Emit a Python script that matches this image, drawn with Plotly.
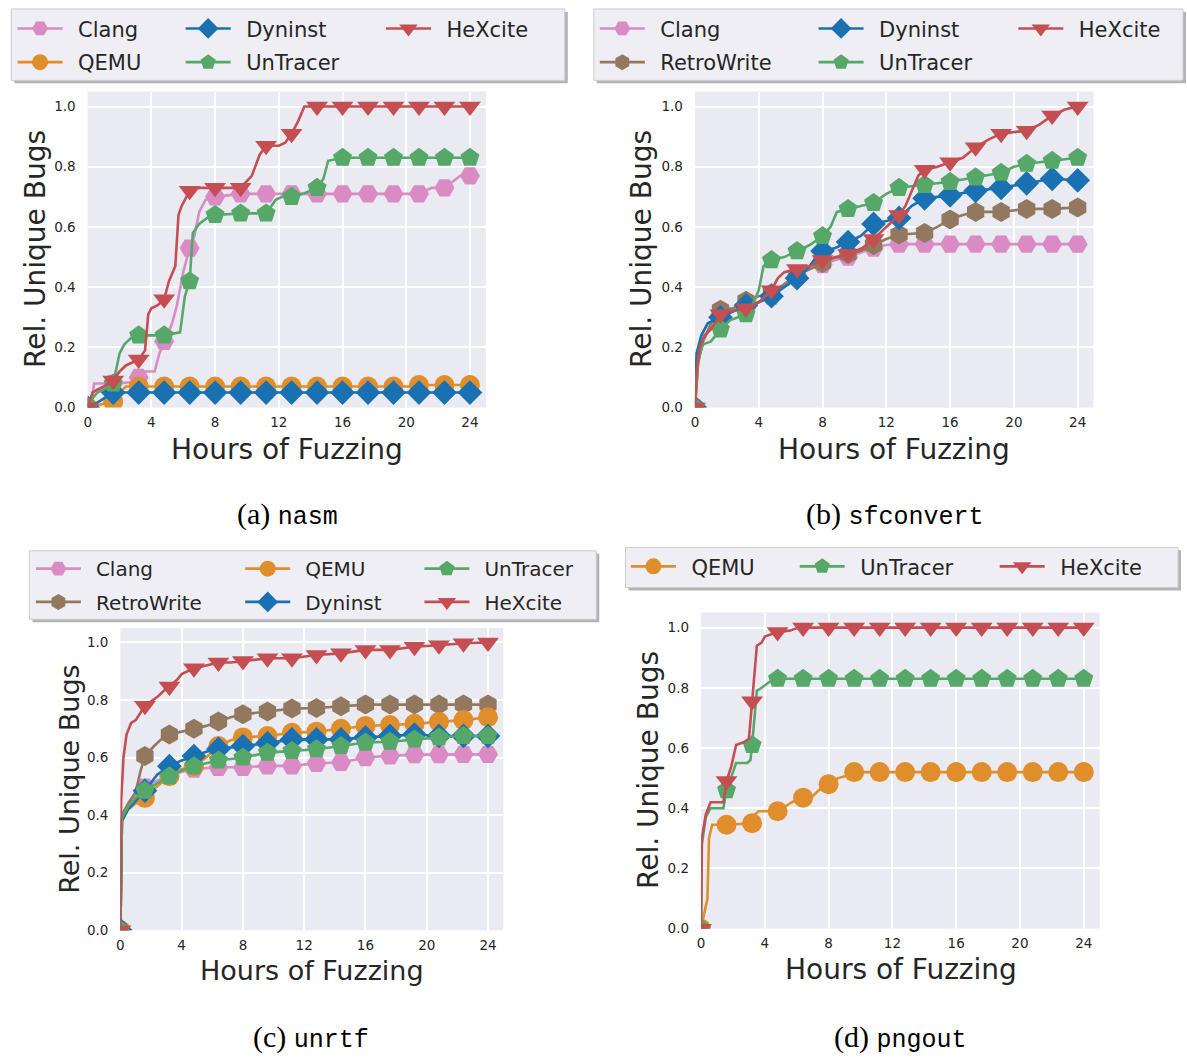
import plotly.graph_objects as go

W, H = 1187, 1059

# ---------------- data ----------------
MARK_T = [0, 1.6, 3.2, 4.8, 6.4, 8.0, 9.6, 11.2, 12.8, 14.4, 16.0, 17.6, 19.2, 20.8, 22.4, 24.0]
X_TICKS = [0, 4, 8, 12, 16, 20, 24]
Y_TICKS = [0.0, 0.2, 0.4, 0.6, 0.8, 1.0]

# (a) nasm
NASM_CLANG_T = [0, 0.2, 0.4, 1.6, 3.0, 3.2, 3.6, 4.2, 4.5, 4.8, 5.3, 5.6, 6.0, 6.4, 6.7, 7.0, 7.4, 8.0, 9.6, 11.2, 12.8, 14.4, 16.0, 17.6, 19.2, 20.8, 21.6, 22.4, 23.4, 24.0]
NASM_CLANG_V = [0, 0.0, 0.08, 0.08, 0.085, 0.10, 0.12, 0.12, 0.18, 0.22, 0.28, 0.34, 0.45, 0.53, 0.57, 0.65, 0.69, 0.70, 0.71, 0.71, 0.71, 0.71, 0.71, 0.71, 0.71, 0.71, 0.73, 0.73, 0.77, 0.77]
NASM_QEMU_T = [0, 1.6, 2.0, 2.4, 3.2, 4.8, 6.4, 8.0, 9.6, 11.2, 12.8, 14.4, 16.0, 17.6, 19.2, 20.2, 20.8, 22.4, 24.0]
NASM_QEMU_V = [0, 0.02, 0.05, 0.07, 0.07, 0.07, 0.07, 0.07, 0.07, 0.07, 0.07, 0.07, 0.07, 0.07, 0.07, 0.07, 0.075, 0.075, 0.075]
NASM_DYNINST_T = [0, 0.4, 1.0, 1.6, 3.2, 4.8, 6.4, 8.0, 9.6, 11.2, 12.8, 14.4, 16.0, 17.6, 19.2, 20.8, 22.4, 24.0]
NASM_DYNINST_V = [0, 0.01, 0.03, 0.05, 0.05, 0.05, 0.05, 0.05, 0.05, 0.05, 0.05, 0.05, 0.05, 0.05, 0.05, 0.05, 0.05, 0.05]
NASM_UNTRACER_T = [0, 0.3, 0.6, 1.0, 1.6, 2.0, 2.3, 2.7, 3.2, 4.8, 5.8, 6.1, 6.4, 6.6, 7.0, 7.5, 8.0, 9.6, 11.2, 11.8, 12.2, 12.8, 13.5, 14.4, 14.8, 15.1, 16.0, 17.6, 19.2, 20.8, 22.4, 24.0]
NASM_UNTRACER_V = [0, 0.03, 0.05, 0.06, 0.08, 0.18, 0.21, 0.23, 0.24, 0.24, 0.25, 0.37, 0.42, 0.58, 0.61, 0.63, 0.64, 0.645, 0.645, 0.69, 0.70, 0.70, 0.71, 0.73, 0.76, 0.82, 0.83, 0.83, 0.83, 0.83, 0.83, 0.83]
NASM_HEXCITE_T = [0, 0.3, 0.6, 1.0, 1.6, 2.0, 2.4, 2.8, 3.2, 3.6, 3.8, 4.0, 4.4, 4.8, 5.1, 5.5, 5.7, 5.9, 6.4, 7.0, 8.0, 9.6, 10.3, 10.8, 11.2, 12.0, 12.4, 12.8, 13.2, 13.6, 14.4, 16.0, 17.6, 19.2, 20.8, 22.4, 24.0]
NASM_HEXCITE_V = [0, 0.05, 0.06, 0.07, 0.09, 0.12, 0.14, 0.15, 0.16, 0.19, 0.31, 0.33, 0.34, 0.36, 0.42, 0.47, 0.64, 0.67, 0.72, 0.73, 0.73, 0.73, 0.77, 0.84, 0.87, 0.87, 0.88, 0.91, 0.95, 1.0, 1.0, 1.0, 1.0, 1.0, 1.0, 1.0, 1.0]

# (b) sfconvert
SF_CLANG_T = [0, 0.2, 0.5, 1.0, 1.6, 2.4, 3.2, 4.0, 4.8, 5.6, 6.4, 7.2, 8.0, 8.8, 9.6, 10.4, 11.2, 12.0, 12.8, 14.4, 16.0, 17.6, 19.2, 20.8, 22.4, 24.0]
SF_CLANG_V = [0, 0.15, 0.22, 0.27, 0.31, 0.32, 0.33, 0.35, 0.37, 0.41, 0.44, 0.46, 0.475, 0.49, 0.50, 0.515, 0.53, 0.54, 0.543, 0.543, 0.543, 0.543, 0.543, 0.543, 0.543, 0.543]
SF_RETRO_T = [0, 0.2, 0.5, 1.0, 1.6, 2.4, 3.2, 4.0, 4.8, 5.6, 6.4, 7.2, 8.0, 8.8, 9.6, 10.4, 11.2, 12.0, 12.8, 14.4, 15.2, 16.0, 16.8, 17.6, 19.2, 20.8, 22.4, 24.0]
SF_RETRO_V = [0, 0.15, 0.22, 0.28, 0.325, 0.33, 0.355, 0.37, 0.38, 0.41, 0.44, 0.46, 0.48, 0.50, 0.51, 0.52, 0.54, 0.56, 0.575, 0.58, 0.60, 0.625, 0.64, 0.65, 0.65, 0.66, 0.66, 0.665]
SF_DYNINST_T = [0, 0.1, 0.4, 0.8, 1.2, 1.6, 2.4, 3.2, 4.0, 4.8, 5.6, 6.4, 7.2, 7.6, 8.0, 8.8, 9.6, 10.4, 11.0, 11.2, 12.0, 12.8, 13.6, 14.4, 16.0, 17.6, 19.2, 20.8, 22.4, 24.0]
SF_DYNINST_V = [0, 0.18, 0.24, 0.28, 0.29, 0.30, 0.32, 0.34, 0.35, 0.37, 0.40, 0.43, 0.47, 0.50, 0.52, 0.53, 0.55, 0.57, 0.60, 0.61, 0.62, 0.63, 0.67, 0.695, 0.705, 0.72, 0.73, 0.745, 0.76, 0.755]
SF_UNTRACER_T = [0, 0.2, 0.5, 1.0, 1.6, 2.2, 2.7, 3.2, 3.6, 4.0, 4.3, 4.8, 5.6, 6.4, 7.2, 8.0, 8.5, 8.9, 9.6, 10.4, 11.2, 12.0, 12.8, 13.6, 14.4, 16.0, 17.6, 19.2, 20.0, 20.8, 22.4, 24.0]
SF_UNTRACER_V = [0, 0.16, 0.21, 0.22, 0.26, 0.29, 0.30, 0.31, 0.34, 0.39, 0.47, 0.49, 0.50, 0.52, 0.54, 0.57, 0.60, 0.65, 0.66, 0.67, 0.68, 0.71, 0.73, 0.735, 0.74, 0.75, 0.765, 0.78, 0.80, 0.81, 0.82, 0.83]
SF_HEXCITE_T = [0, 0.1, 0.3, 0.6, 1.0, 1.6, 2.2, 3.2, 4.0, 4.4, 4.8, 5.2, 5.6, 6.4, 7.2, 8.0, 9.0, 9.6, 10.5, 11.2, 12.0, 12.8, 13.2, 13.6, 14.0, 14.4, 15.2, 16.0, 16.8, 17.6, 18.4, 19.2, 20.8, 21.6, 22.4, 23.2, 24.0]
SF_HEXCITE_V = [0, 0.12, 0.2, 0.24, 0.26, 0.31, 0.32, 0.33, 0.35, 0.37, 0.39, 0.43, 0.45, 0.46, 0.47, 0.49, 0.50, 0.51, 0.53, 0.56, 0.60, 0.64, 0.67, 0.72, 0.77, 0.79, 0.80, 0.815, 0.83, 0.865, 0.89, 0.91, 0.92, 0.94, 0.97, 0.99, 1.0]

# (c) unrtf
UN_CLANG_T = [0, 0.1, 0.5, 1.0, 1.6, 2.4, 3.2, 4.0, 4.8, 6.4, 8.0, 9.6, 11.2, 12.8, 14.4, 16.0, 17.6, 19.2, 20.8, 22.4, 24.0]
UN_CLANG_V = [0, 0.38, 0.43, 0.47, 0.497, 0.52, 0.537, 0.55, 0.56, 0.566, 0.566, 0.571, 0.571, 0.58, 0.583, 0.60, 0.606, 0.61, 0.61, 0.611, 0.611]
UN_RETRO_T = [0, 0.1, 0.5, 1.0, 1.3, 1.6, 2.2, 2.6, 3.2, 4.8, 5.6, 6.4, 7.2, 8.0, 9.6, 11.2, 12.8, 14.4, 16.0, 17.6, 19.2, 20.8, 22.4, 24.0]
UN_RETRO_V = [0, 0.40, 0.44, 0.48, 0.55, 0.605, 0.64, 0.66, 0.68, 0.70, 0.71, 0.725, 0.74, 0.75, 0.76, 0.77, 0.772, 0.778, 0.784, 0.784, 0.784, 0.784, 0.784, 0.784]
UN_QEMU_T = [0, 0.1, 0.5, 1.0, 1.6, 2.4, 3.2, 4.0, 4.8, 5.6, 6.4, 7.2, 8.0, 9.6, 11.2, 12.8, 14.4, 16.0, 17.6, 19.2, 20.8, 22.4, 24.0]
UN_QEMU_V = [0, 0.38, 0.42, 0.44, 0.46, 0.50, 0.535, 0.56, 0.57, 0.60, 0.64, 0.66, 0.67, 0.675, 0.686, 0.69, 0.70, 0.71, 0.713, 0.717, 0.724, 0.73, 0.74]
UN_DYNINST_T = [0, 0.1, 0.5, 1.0, 1.6, 2.4, 3.2, 4.0, 4.8, 5.6, 6.4, 8.0, 9.6, 11.2, 12.8, 14.4, 16.0, 17.6, 19.2, 20.8, 22.4, 24.0]
UN_DYNINST_V = [0, 0.38, 0.42, 0.45, 0.485, 0.54, 0.57, 0.59, 0.605, 0.62, 0.63, 0.64, 0.65, 0.663, 0.663, 0.663, 0.67, 0.675, 0.68, 0.675, 0.675, 0.675]
UN_UNTRACER_T = [0, 0.1, 0.5, 1.0, 1.6, 2.4, 3.2, 4.0, 4.8, 5.6, 6.4, 8.0, 9.6, 11.2, 12.8, 14.4, 16.0, 17.6, 19.2, 20.8, 22.4, 24.0]
UN_UNTRACER_V = [0, 0.39, 0.43, 0.46, 0.485, 0.51, 0.535, 0.555, 0.57, 0.58, 0.59, 0.60, 0.617, 0.623, 0.629, 0.64, 0.652, 0.655, 0.663, 0.67, 0.675, 0.675]
UN_HEXCITE_T = [0, 0.05, 0.2, 0.4, 0.7, 1.0, 1.6, 2.4, 2.8, 3.2, 3.7, 4.0, 4.8, 5.6, 6.4, 7.2, 8.0, 9.6, 11.2, 12.0, 12.8, 14.4, 16.0, 17.6, 19.2, 20.8, 22.4, 24.0]
UN_HEXCITE_V = [0, 0.45, 0.6, 0.68, 0.72, 0.73, 0.78, 0.81, 0.83, 0.847, 0.87, 0.89, 0.91, 0.92, 0.93, 0.93, 0.935, 0.945, 0.945, 0.95, 0.956, 0.962, 0.974, 0.974, 0.985, 0.99, 0.997, 1.0]

# (d) pngout
PNG_QEMU_T = [0, 0.2, 0.4, 0.5, 0.7, 1.6, 3.2, 3.4, 3.6, 4.8, 5.4, 5.7, 6.4, 7.0, 7.4, 8.0, 8.6, 9.3, 9.6, 11.2, 12.8, 14.4, 16.0, 17.6, 19.2, 20.8, 22.4, 24.0]
PNG_QEMU_V = [0, 0.05, 0.10, 0.30, 0.345, 0.345, 0.35, 0.38, 0.39, 0.39, 0.41, 0.42, 0.435, 0.44, 0.46, 0.48, 0.50, 0.51, 0.52, 0.52, 0.52, 0.52, 0.52, 0.52, 0.52, 0.52, 0.52, 0.52]
PNG_UNTRACER_T = [0, 0.05, 0.3, 0.6, 1.4, 1.6, 2.0, 2.2, 2.9, 3.1, 3.2, 3.4, 3.5, 3.8, 4.3, 4.8, 6.4, 8.0, 9.6, 11.2, 12.8, 14.4, 16.0, 17.6, 19.2, 20.8, 22.4, 24.0]
PNG_UNTRACER_V = [0, 0.28, 0.37, 0.40, 0.40, 0.46, 0.52, 0.55, 0.55, 0.56, 0.61, 0.72, 0.79, 0.80, 0.82, 0.83, 0.83, 0.83, 0.83, 0.83, 0.83, 0.83, 0.83, 0.83, 0.83, 0.83, 0.83, 0.83]
PNG_HEXCITE_T = [0, 0.05, 0.3, 0.6, 1.4, 1.6, 1.9, 2.2, 2.7, 3.0, 3.1, 3.2, 3.5, 3.8, 4.0, 4.8, 5.6, 6.1, 6.4, 8.0, 9.6, 11.2, 12.8, 14.4, 16.0, 17.6, 19.2, 20.8, 22.4, 24.0]
PNG_HEXCITE_V = [0, 0.30, 0.38, 0.42, 0.42, 0.49, 0.54, 0.61, 0.62, 0.63, 0.69, 0.755, 0.94, 0.95, 0.97, 0.985, 0.99, 1.0, 1.0, 1.0, 1.0, 1.0, 1.0, 1.0, 1.0, 1.0, 1.0, 1.0, 1.0, 1.0]

# ---------------- styles ----------------
STYLE = {
    "Clang":      dict(color="#DA8BC3", symbol="hexagon2", size=20),
    "QEMU":       dict(color="#E08E2B", symbol="circle", size=20),
    "RetroWrite": dict(color="#937860", symbol="hexagon", size=20),
    "Dyninst":    dict(color="#1A71B1", symbol="diamond", size=19),
    "UnTracer":   dict(color="#55A868", symbol="pentagon", size=20),
    "HeXcite":    dict(color="#C44E52", symbol="triangle-down", size=19),
}
TXT = "#262626"
FONT = "DejaVu Sans"

PANELS = [
    dict(ax="", xdom=(84.0, 483.5), ydom=(92.2, 410.7), tf=28,
         series=[("Clang", NASM_CLANG_T, NASM_CLANG_V), ("QEMU", NASM_QEMU_T, NASM_QEMU_V),
                 ("Dyninst", NASM_DYNINST_T, NASM_DYNINST_V), ("UnTracer", NASM_UNTRACER_T, NASM_UNTRACER_V),
                 ("HeXcite", NASM_HEXCITE_T, NASM_HEXCITE_V)],
         cols=[14.6, 182.7, 383.0], rows=[29, 63], lf=21,
         grid=[["Clang", "Dyninst", "HeXcite"], ["QEMU", "UnTracer"]],
         box=(7.3, 9, 562.7, 81),
         xtitle=(284, 453), ytitle=(31, 251), cap=("(a)", "nasm", 284, 518)),
    dict(ax="2", xdom=(693.3, 1093.3), ydom=(92.2, 410.7), tf=28,
         series=[("Clang", SF_CLANG_T, SF_CLANG_V), ("RetroWrite", SF_RETRO_T, SF_RETRO_V),
                 ("Dyninst", SF_DYNINST_T, SF_DYNINST_V), ("UnTracer", SF_UNTRACER_T, SF_UNTRACER_V),
                 ("HeXcite", SF_HEXCITE_T, SF_HEXCITE_V)],
         cols=[598.8, 817.6, 1017.3], rows=[29, 63], lf=21,
         grid=[["Clang", "Dyninst", "HeXcite"], ["RetroWrite", "UnTracer"]],
         box=(591.8, 9, 1183, 81),
         xtitle=(893, 453), ytitle=(639, 251), cap=("(b)", "sfconvert", 894, 518)),
    dict(ax="3", xdom=(116.8, 501.0), ydom=(632.8, 937.3), tf=27,
         series=[("Clang", UN_CLANG_T, UN_CLANG_V), ("RetroWrite", UN_RETRO_T, UN_RETRO_V),
                 ("QEMU", UN_QEMU_T, UN_QEMU_V), ("Dyninst", UN_DYNINST_T, UN_DYNINST_V),
                 ("UnTracer", UN_UNTRACER_T, UN_UNTRACER_V), ("HeXcite", UN_HEXCITE_T, UN_HEXCITE_V)],
         cols=[33.0, 242.3, 421.5], rows=[573, 606.5], lf=20,
         grid=[["Clang", "QEMU", "UnTracer"], ["RetroWrite", "Dyninst", "HeXcite"]],
         box=(25.6, 555, 594.3, 624),
         xtitle=(309, 978), ytitle=(65, 785), cap=("(c)", "unrtf", 308, 1045)),
    dict(ax="4", xdom=(699.4, 1099.4), ydom=(617.2, 935.7), tf=28,
         series=[("QEMU", PNG_QEMU_T, PNG_QEMU_V), ("UnTracer", PNG_UNTRACER_T, PNG_UNTRACER_V),
                 ("HeXcite", PNG_HEXCITE_T, PNG_HEXCITE_V)],
         cols=[630.0, 798.8, 998.8], rows=[571], lf=21,
         grid=[["QEMU", "UnTracer", "HeXcite"]],
         box=(623.6, 551.5, 1178, 592),
         xtitle=(900, 977), ytitle=(646, 776), cap=("(d)", "pngout", 900, 1045)),
]

ITEMW = 45
SYM_OFF = 6  # symbol start offset inside a legend row
PAD = "\u2002"  # extra gap between legend symbol and text


def pxx(x):
    return x / W


def pyy(y):
    return 1 - y / H


fig = go.Figure()
layout = dict(width=W, height=H, margin=dict(l=0, r=0, t=0, b=0),
              paper_bgcolor="white", plot_bgcolor="#EAEAF2", showlegend=True,
              font=dict(family=FONT, color=TXT))
shapes, annotations = [], []
legend_idx = 0

for p in PANELS:
    xa, ya = "x" + p["ax"], "y" + p["ax"]
    xk, yk = "xaxis" + p["ax"], "yaxis" + p["ax"]
    layout[xk] = dict(domain=[pxx(p["xdom"][0]), pxx(p["xdom"][1])], range=[0, 25], anchor=ya,
                      tickvals=X_TICKS, showgrid=True, gridcolor="white", gridwidth=1.6,
                      zeroline=False, showline=False, ticks="",
                      tickfont=dict(family=FONT, size=13.5, color=TXT), ticklabelstandoff=5)
    layout[yk] = dict(domain=[pyy(p["ydom"][1]), pyy(p["ydom"][0])], range=[0, 1.05], anchor=xa,
                      tickvals=Y_TICKS, tickformat=".1f", showgrid=True, gridcolor="white",
                      gridwidth=1.6, zeroline=False, showline=False, ticks="",
                      tickfont=dict(family=FONT, size=13.5, color=TXT), ticklabelstandoff=11)
    for name, T, V in p["series"]:
        st = STYLE[name]
        fig.add_trace(go.Scatter(x=T, y=V, mode="lines", line=dict(color=st["color"], width=2.6),
                                 xaxis=xa, yaxis=ya, showlegend=False, hoverinfo="skip"))
        mx = [t for t in T if t in MARK_T]
        my = [v for t, v in zip(T, V) if t in MARK_T]
        fig.add_trace(go.Scatter(x=mx, y=my, mode="markers",
                                 marker=dict(color=st["color"], symbol=st["symbol"], size=st["size"],
                                             line=dict(width=0)),
                                 xaxis=xa, yaxis=ya, showlegend=False, hoverinfo="skip"))
    # legend rows
    for r, row in enumerate(p["grid"]):
        legend_idx += 1
        lk = "legend" if legend_idx == 1 else "legend%d" % legend_idx
        for c, name in enumerate(row):
            st = STYLE[name]
            if c + 1 < len(p["cols"]) and c + 1 < len(row):
                lw = p["cols"][c + 1] - p["cols"][c] - (ITEMW + 15)
            else:
                lw = 110
            fig.add_trace(go.Scatter(x=[None], y=[None], mode="lines+markers", name=PAD + name,
                                     line=dict(color=st["color"], width=2.6),
                                     marker=dict(color=st["color"], symbol=st["symbol"], size=16),
                                     xaxis=xa, yaxis=ya, legend=lk, legendwidth=lw, showlegend=True))
        layout[lk] = dict(orientation="h", x=pxx(p["cols"][0] - SYM_OFF), xanchor="left",
                          y=pyy(p["rows"][r]), yanchor="middle", bgcolor="rgba(0,0,0,0)",
                          borderwidth=0, itemwidth=ITEMW,
                          font=dict(family=FONT, size=p["lf"], color=TXT), itemclick=False)
    # legend frame with shadow
    x0, y0, x1, y1 = p["box"]
    shapes.append(dict(type="rect", xref="paper", yref="paper", x0=pxx(x0 + 3), x1=pxx(x1 + 3),
                       y0=pyy(y0 + 3), y1=pyy(y1 + 3), fillcolor="#B3B3B7", line=dict(width=0)))
    shapes.append(dict(type="rect", xref="paper", yref="paper", x0=pxx(x0), x1=pxx(x1),
                       y0=pyy(y0), y1=pyy(y1), fillcolor="#EEEEF4", line=dict(color="#CCCCCC", width=1)))
    # axis titles
    annotations.append(dict(text="Hours of Fuzzing", x=pxx(p["xtitle"][0]), y=pyy(p["xtitle"][1]),
                            xref="paper", yref="paper", showarrow=False, xanchor="center", yanchor="middle",
                            font=dict(family=FONT, size=p["tf"], color=TXT)))
    annotations.append(dict(text="Rel. Unique Bugs", x=pxx(p["ytitle"][0]), y=pyy(p["ytitle"][1]),
                            xref="paper", yref="paper", showarrow=False, xanchor="center", yanchor="middle",
                            textangle=-90, font=dict(family=FONT, size=p["tf"], color=TXT)))
    lab, prog, cx, cy = p["cap"]
    annotations.append(dict(
        text="<span style='font-family:Liberation Serif'>%s</span> "
             "<span style='font-family:Liberation Mono;font-size:25px'>%s</span>" % (lab, prog),
        x=pxx(cx), y=pyy(cy), xref="paper", yref="paper", showarrow=False,
        xanchor="center", yanchor="middle",
        font=dict(family="Liberation Serif", size=30, color="#000000")))

layout["shapes"] = shapes
layout["annotations"] = annotations
fig.update_layout(**layout)
fig.write_html("out.html")
